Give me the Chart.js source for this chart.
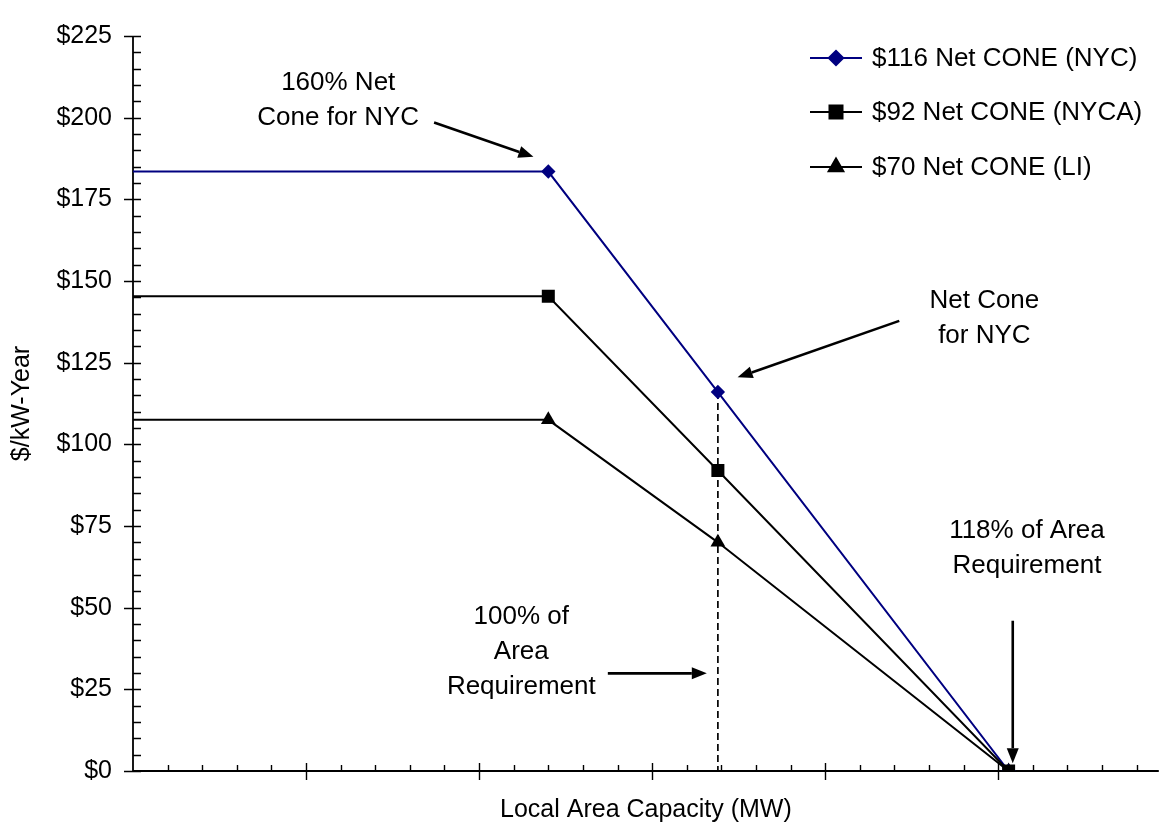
<!DOCTYPE html>
<html>
<head>
<meta charset="utf-8">
<script src="https://cdn.jsdelivr.net/npm/chart.js@4.4.1/dist/chart.umd.min.js"></script>
<style>
  html, body { margin: 0; padding: 0; background: #ffffff; }
  #wrap { width: 1168px; height: 832px; position: relative; }
</style>
</head>
<body>
<div id="wrap"><canvas id="chart" width="1168" height="832"></canvas></div>
<script>
// Demand curve points: flat cap, net CONE at 100% of requirement, zero at 118%
const capacityMW = [0, 1200, 1690, 2530];
const nycPrice   = [183.5, 183.5, 116, 0];
const nycaPrice  = [145.3, 145.3, 92, 0];
const liPrice    = [107.5, 107.5, 70, 0];
const seriesNames = ['$116 Net CONE (NYC)', '$92 Net CONE (NYCA)', '$70 Net CONE (LI)'];

// Vertical marker at 100% of the area requirement
const requirementMW = [1690, 1690];
const requirementPrice = [116, 0];

// Axis ranges and tick steps
const yMin = 0, yMax = 225, yMajor = 25, yMinor = 5;
const xMin = 0, xMax = 2964, xMajor = 500, xMinor = 100;

// Callout texts and arrows (positions in axis units)
const calloutText = [
  { lines: ['160% Net', 'Cone for NYC'], x: 593, y: 210.8 },
  { lines: ['Net Cone', 'for NYC'], x: 2460, y: 143.8 },
  { lines: ['100% of', 'Area', 'Requirement'], x: 1122, y: 47.2 },
  { lines: ['118% of Area', 'Requirement'], x: 2583, y: 73.5 }
];
const calloutArrows = [
  { from: [870, 198.5], to: [1157, 188.0] },
  { from: [2214, 137.8], to: [1747, 120.5] },
  { from: [1372, 29.9], to: [1658, 29.9] },
  { from: [2542, 46.0], to: [2542, 2.4] }
];

const FONT = "'Liberation Sans', Arial, Helvetica, sans-serif";
const NAVY = '#000080';

function toPoints(xs, ys) { return xs.map((x, i) => ({ x: x, y: ys[i] })); }

// Axis lines and tick marks drawn Excel-style (minor ticks inside, major ticks crossing)
const axisPlugin = {
  id: 'axisTicks',
  beforeDatasetsDraw(chart) {
    const { ctx, chartArea: a, scales: { x, y } } = chart;
    ctx.save();
    ctx.strokeStyle = '#000';
    ctx.lineWidth = 1.8;
    ctx.beginPath();
    ctx.moveTo(a.left, a.top); ctx.lineTo(a.left, a.bottom);
    ctx.moveTo(a.left, a.bottom); ctx.lineTo(a.right, a.bottom);
    ctx.stroke();
    ctx.lineWidth = 1.4;
    ctx.beginPath();
    for (let v = yMin; v <= yMax + 1e-6; v += yMinor) {
      const py = Math.round(y.getPixelForValue(v)) + 0.5;
      const major = Math.abs(v % yMajor) < 1e-6;
      ctx.moveTo(major ? a.left - 9 : a.left, py);
      ctx.lineTo(a.left + 8, py);
    }
    for (let v = xMin + xMinor; v <= xMax + 1e-6; v += xMinor) {
      const px = Math.round(x.getPixelForValue(v)) + 0.5;
      const major = Math.abs(v % xMajor) < 1e-6;
      ctx.moveTo(px, a.bottom - (major ? 8 : 6));
      ctx.lineTo(px, a.bottom + (major ? 9 : 0));
    }
    ctx.stroke();
    ctx.restore();
  }
};

function drawArrow(ctx, x1, y1, x2, y2) {
  const ang = Math.atan2(y2 - y1, x2 - x1);
  const headLen = 15, headHalf = 6;
  const bx = x2 - headLen * Math.cos(ang), by = y2 - headLen * Math.sin(ang);
  ctx.beginPath();
  ctx.moveTo(x1, y1); ctx.lineTo(bx, by);
  ctx.stroke();
  ctx.beginPath();
  ctx.moveTo(x2, y2);
  ctx.lineTo(bx + headHalf * Math.sin(ang), by - headHalf * Math.cos(ang));
  ctx.lineTo(bx - headHalf * Math.sin(ang), by + headHalf * Math.cos(ang));
  ctx.closePath();
  ctx.fill();
}

// Callouts and legend
const calloutPlugin = {
  id: 'callouts',
  afterDatasetsDraw(chart) {
    const { ctx, scales: { x, y } } = chart;
    ctx.save();
    ctx.fillStyle = '#000';
    ctx.strokeStyle = '#000';
    ctx.lineWidth = 2.6;
    ctx.font = '26px ' + FONT;
    ctx.textAlign = 'center';
    ctx.textBaseline = 'middle';
    calloutText.forEach(c => {
      const px = x.getPixelForValue(c.x), py = y.getPixelForValue(c.y);
      c.lines.forEach((t, i) => ctx.fillText(t, px, py + i * 35));
    });
    calloutArrows.forEach(a => {
      drawArrow(ctx, x.getPixelForValue(a.from[0]), y.getPixelForValue(a.from[1]),
                     x.getPixelForValue(a.to[0]), y.getPixelForValue(a.to[1]));
    });

    // legend: line sample with marker, then label
    const rows = [58, 112, 167];
    const order = [1, 0, 2]; // dataset index for NYC, NYCA, LI rows
    ctx.textAlign = 'left';
    order.forEach((di, r) => {
      const ds = chart.data.datasets[di];
      const yy = rows[r];
      ctx.strokeStyle = ds.borderColor;
      ctx.lineWidth = 2;
      ctx.beginPath(); ctx.moveTo(810, yy); ctx.lineTo(862, yy); ctx.stroke();
      Chart.helpers.drawPoint(ctx, {
        pointStyle: ds.pointStyle, radius: ds.legendRadius, rotation: 0, borderWidth: 1
      }, 836, yy);
      ctx.fillStyle = ds.borderColor;
      ctx.fill();
      ctx.fillStyle = '#000';
      ctx.fillText(ds.label, 872, yy + 1);
    });
    ctx.restore();
  }
};

const ptRadius = (r) => capacityMW.map((_, i) => i === 0 ? 0 : r);

new Chart(document.getElementById('chart'), {
  type: 'scatter',
  data: {
    datasets: [
      {
        label: seriesNames[1], data: toPoints(capacityMW, nycaPrice), showLine: true,
        borderColor: '#000', backgroundColor: '#000', borderWidth: 2,
        pointStyle: 'rect', pointRadius: ptRadius(9.2), legendRadius: 9.2, pointBorderWidth: 0
      },
      {
        label: seriesNames[0], data: toPoints(capacityMW, nycPrice), showLine: true,
        borderColor: NAVY, backgroundColor: NAVY, borderWidth: 2,
        pointStyle: 'rectRot', pointRadius: ptRadius(7.2), legendRadius: 7.2, pointBorderWidth: 0
      },
      {
        label: seriesNames[2], data: toPoints(capacityMW, liPrice), showLine: true,
        borderColor: '#000', backgroundColor: '#000', borderWidth: 2,
        pointStyle: 'triangle', pointRadius: ptRadius(8.5), legendRadius: 8.5, pointBorderWidth: 0
      },
      {
        label: 'requirement', data: toPoints(requirementMW, requirementPrice), showLine: true,
        borderColor: '#000', borderWidth: 1.7, borderDash: [7, 4], pointRadius: 0
      }
    ]
  },
  options: {
    responsive: false,
    animation: false,
    events: [],
    layout: { padding: { left: 0, right: 0, top: 18, bottom: 0 } },
    plugins: { legend: { display: false }, tooltip: { enabled: false } },
    elements: { line: { tension: 0 } },
    scales: {
      x: {
        type: 'linear', min: xMin, max: xMax,
        grid: { display: false, drawTicks: false },
        border: { display: false },
        ticks: { display: false },
        title: { display: true, text: 'Local Area Capacity (MW)', color: '#000',
                 font: { family: FONT, size: 25 }, padding: { top: 0, bottom: 7 } },
        afterFit: (s) => { s.height = 61; }
      },
      y: {
        min: yMin, max: yMax,
        grid: { display: false, drawTicks: false },
        border: { display: false },
        ticks: { stepSize: yMajor, padding: 21, color: '#000',
                 font: { family: FONT, size: 25 }, callback: (v) => '$' + v },
        title: { display: true, text: '$/kW-Year', color: '#000',
                 font: { family: FONT, size: 25 }, padding: { top: 7, bottom: 0 } },
        afterFit: (s) => { s.width = 133; }
      }
    }
  },
  plugins: [axisPlugin, calloutPlugin]
});
</script>
</body>
</html>
